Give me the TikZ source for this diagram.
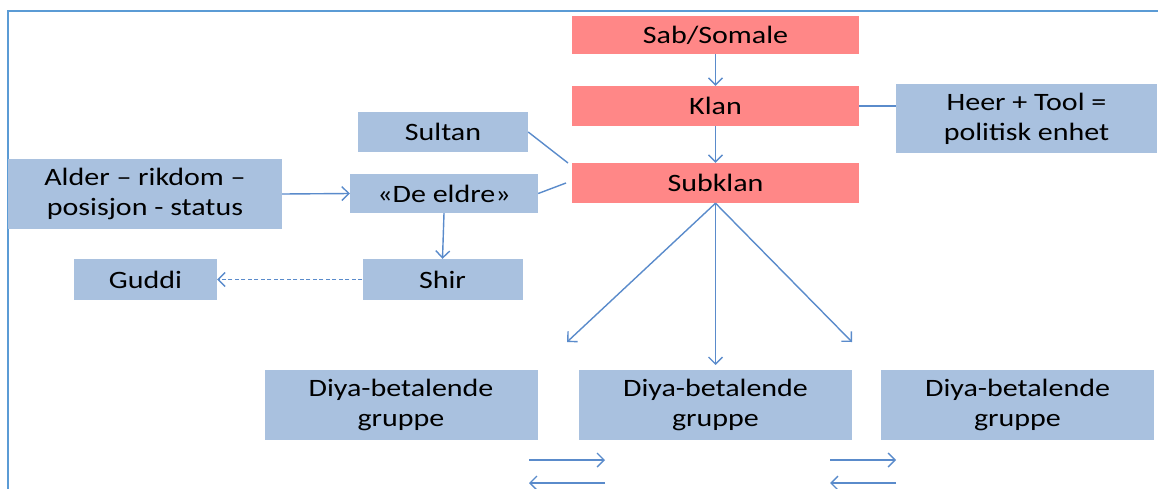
\documentclass[tikz,border=0pt]{standalone}
\usepackage{fontspec}
\setmainfont{Carlito}[FakeStretch=1.2]
\usetikzlibrary{arrows.meta,calc}
\definecolor{boxred}{HTML}{FF8787}
\definecolor{boxblue}{HTML}{A9C1DF}
\definecolor{lineblue}{HTML}{5A8BCB}
\definecolor{frameblue}{HTML}{5B9BD5}
\begin{document}
\begin{tikzpicture}[x=1pt,y=-1pt,
  redbox/.style={fill=boxred, minimum width=287pt, inner sep=0pt, align=center, font=\fontsize{25}{30}\selectfont},
  bluebox/.style={fill=boxblue, inner sep=0pt, align=center, font=\fontsize{25}{30}\selectfont},
  conn/.style={draw=lineblue, line width=1.4pt},
  arr/.style={conn, -{Straight Barb[length=7pt,width=14pt]}},
  dasharr/.style={arr, dash pattern=on 4pt off 2.5pt}]
\useasboundingbox (0,0) rectangle (1158,488);
\draw[draw=frameblue, line width=1.8pt] (8,490) -- (8,11) -- (1160,11);

\node[redbox, minimum height=38pt] (sab) at (715.5,35) {Sab/Somale};
\node[redbox, minimum height=40pt] (klan) at (715.5,106) {Klan};
\node[redbox, minimum height=40pt] (sub) at (715.5,183) {Subklan};
\node[bluebox, minimum width=261pt, minimum height=69pt] (heer) at (1026.5,118.5) {Heer + Tool =\\politisk enhet};
\node[bluebox, minimum width=170pt, minimum height=40pt] (sultan) at (443,132) {Sultan};
\node[bluebox, minimum width=274pt, minimum height=70pt] (alder) at (145,194) {Alder – rikdom –\\posisjon - status};
\node[bluebox, minimum width=188pt, minimum height=39pt] (eldre) at (444,193.5) {«De eldre»};
\node[bluebox, minimum width=143pt, minimum height=41pt] (guddi) at (145.5,279.5) {Guddi};
\node[bluebox, minimum width=160pt, minimum height=41pt] (shir) at (442.5,279.5) {Shir};
\node[bluebox, minimum width=273pt, minimum height=70pt] (d1) at (401,405) {Diya-betalende\\gruppe};
\node[bluebox, minimum width=273pt, minimum height=70pt] (d2) at (715.5,405) {Diya-betalende\\gruppe};
\node[bluebox, minimum width=273pt, minimum height=70pt] (d3) at (1017.5,405) {Diya-betalende\\gruppe};

\coordinate (sultanEnd) at (568,163);
\coordinate (eldreEnd) at (566,183);
\coordinate (leftEnd) at (567,342);
\coordinate (midEnd) at (715.5,365);
\coordinate (rightEnd) at (852,342);
\coordinate (a1s) at (529,460); \coordinate (a1e) at (605,460);
\coordinate (b1s) at (605,483); \coordinate (b1e) at (529,483);
\coordinate (a2s) at (830,460); \coordinate (a2e) at (896,460);
\coordinate (b2s) at (896,483); \coordinate (b2e) at (830,483);

\draw[arr] (sab.south) -- (klan.north);
\draw[arr] (klan.south) -- (sub.north);
\draw[conn] (klan.east) -- (klan.east -| heer.west);
\draw[conn] (sultan.east) -- (sultanEnd);
\draw[conn] (eldre.east) -- (eldreEnd);
\draw[arr] (alder.east) -- (eldre.west);
\draw[arr] (eldre.south) -- (shir.north);
\draw[dasharr] (shir.west) -- (guddi.east);
\draw[arr] (sub.south) -- (leftEnd);
\draw[arr] (sub.south) -- (midEnd);
\draw[arr] (sub.south) -- (rightEnd);
\draw[arr] (a1s) -- (a1e);
\draw[arr] (b1s) -- (b1e);
\draw[arr] (a2s) -- (a2e);
\draw[arr] (b2s) -- (b2e);
\end{tikzpicture}
\end{document}
